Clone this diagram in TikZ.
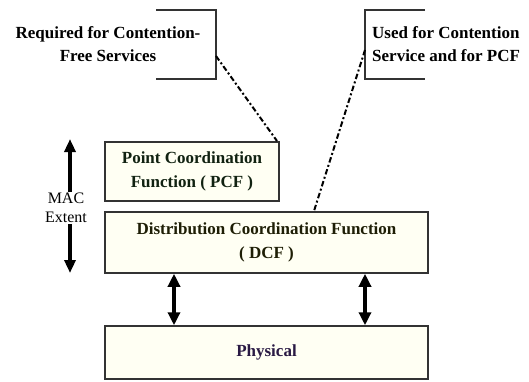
\documentclass[tikz,border=0pt]{standalone}
\usepackage{fontspec}
\setmainfont{Liberation Serif}
\usepackage{tikz}
\usepackage{xcolor}
\usetikzlibrary{arrows.meta}

\definecolor{boxfill}{HTML}{FFFFF3}
\definecolor{boxline}{HTML}{333333}
\definecolor{pcftext}{HTML}{112211}
\definecolor{dcftext}{HTML}{1E1E05}
\definecolor{phytext}{HTML}{2A1A44}

\tikzset{
  layer/.style={draw=boxline, line width=1.5pt, fill=boxfill, align=center,
    inner sep=0pt, font=\bfseries\fontsize{17}{24}\selectfont},
  note/.style={inner sep=0pt, font=\bfseries\fontsize{17}{23}\selectfont},
  bracket/.style={draw=boxline, line width=1.2pt},
  pointer/.style={line width=2pt, dash pattern=on 5.5pt off 2.5pt on 2pt off 2.5pt},
  updown/.style={line width=3.5pt, {Triangle[length=13pt,width=12pt]}-{Triangle[length=13pt,width=12pt]}},
  extent/.style={line width=3.5pt, -{Triangle[length=13pt,width=11pt]}}
}

\begin{document}
\begin{tikzpicture}[x=1pt, y=-1pt]
  \useasboundingbox (0,0) rectangle (529,381);

  % layers
  \node[layer, minimum width=174pt, minimum height=59pt, text=pcftext] (pcf) at (192,171.5)
    {Point Coordination\\Function ( PCF )};
  \node[layer, minimum width=323pt, minimum height=61pt, text=dcftext] (dcf) at (266.5,242.5)
    {Distribution Coordination Function\\( DCF )};
  \node[layer, minimum width=323pt, minimum height=53pt, text=phytext] (phy) at (266.5,352.5)
    {Physical};

  % notes
  \node[note, align=center] (req) at (108,44) {Required for Contention-\\Free Services};
  \node[note, align=left, anchor=west] (used) at (372,44.5) {Used for Contention\\Service and for PCF};

  \draw[bracket] (156,10) -| (216,79) -- (156,79);
  \draw[bracket] (425,10) -| (365,79) -- (425,79);

  \coordinate (p1) at (216,56);
  \coordinate (q1) at (277,141);
  \coordinate (p2) at (365,50);
  \coordinate (q2) at (314,211);
  \draw[pointer] (p1) -- (q1);
  \draw[pointer] (p2) -- (q2);

  % MAC extent
  \node[align=center, inner sep=1pt, font=\fontsize{16}{19}\selectfont] (mac) at (66,208) {MAC\\Extent};
  \coordinate (top) at (70,139);
  \coordinate (bot) at (70,273);
  \draw[extent] (mac.north -| top) -- (top);
  \draw[extent] (mac.south -| bot) -- (bot);

  % links between DCF and physical
  \coordinate (l1) at (174,0);
  \coordinate (l2) at (365,0);
  \draw[updown] (dcf.south -| l1) -- (phy.north -| l1);
  \draw[updown] (dcf.south -| l2) -- (phy.north -| l2);

\end{tikzpicture}
\end{document}
